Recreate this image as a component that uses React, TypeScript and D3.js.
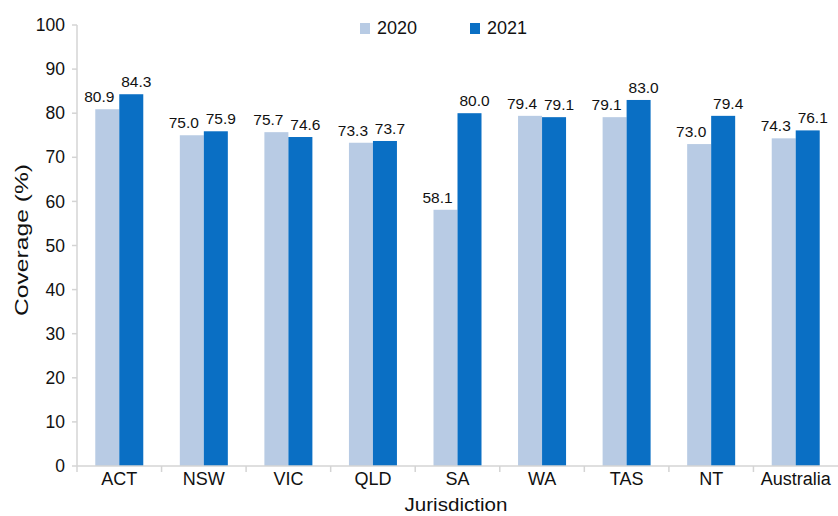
import React from 'react';
import * as d3 from 'd3';

const categories = ["ACT", "NSW", "VIC", "QLD", "SA", "WA", "TAS", "NT", "Australia"];
const values2020 = [80.9, 75.0, 75.7, 73.3, 58.1, 79.4, 79.1, 73.0, 74.3];
const values2021 = [84.3, 75.9, 74.6, 73.7, 80.0, 79.1, 83.0, 79.4, 76.1];
const seriesNames = ["2020", "2021"];
const yTicks = [0, 10, 20, 30, 40, 50, 60, 70, 80, 90, 100];

const colors = ["#b8cbe4", "#0a6fc4"];
const font = "'Liberation Sans', Arial, sans-serif";

export default function App() {
  const width = 838, height = 516;
  const x0 = 77, x1 = 838, yTop = 25, yBottom = 466;

  const x = d3.scaleBand().domain(categories).range([x0, x1]).paddingInner(0).paddingOuter(0);
  const y = d3.scaleLinear().domain([0, 100]).range([yBottom, yTop]);
  const barW = 24;

  const series = [values2020, values2021];
  const labelOffset = [-8, 5];

  return (
    <svg width={width} height={height} style={{position: 'absolute', left: 0, top: 0, background: '#fff'}}
      fontFamily={font}>
      {/* y axis */}
      <line x1={x0} x2={x0} y1={yTop} y2={yBottom} stroke="#d4d4d4" strokeWidth={1.5} />
      {yTicks.map(t => (
        <g key={t}>
          <line x1={x0 - 5} x2={x0} y1={y(t)} y2={y(t)} stroke="#d4d4d4" strokeWidth={1.5} />
          <text x={65} y={y(t)} dy="0.35em" textAnchor="end" fontSize={17.5} fill="#111">{t}</text>
        </g>
      ))}
      {/* bars */}
      {categories.map((c, i) => {
        const cx = x(c)! + x.bandwidth() / 2;
        return (
          <g key={c}>
            {series.map((vals, s) => {
              const bx = s === 0 ? cx - barW : cx;
              return (
                <g key={s}>
                  <rect x={bx} y={y(vals[i])} width={barW} height={yBottom - y(vals[i])} fill={colors[s]} />
                  <text x={bx + barW / 2 + labelOffset[s]} y={y(vals[i]) - 7} textAnchor="middle"
                    fontSize={15.5} fill="#111">{vals[i].toFixed(1)}</text>
                </g>
              );
            })}
            <text x={cx} y={485} textAnchor="middle" fontSize={18} fill="#111">{c}</text>
          </g>
        );
      })}
      {/* x axis */}
      <line x1={x0} x2={x1} y1={yBottom} y2={yBottom} stroke="#d4d4d4" strokeWidth={1.5} />
      {categories.map(c => (
        <line key={c} x1={x(c)!} x2={x(c)!} y1={yBottom} y2={yBottom + 6} stroke="#d4d4d4" strokeWidth={1.5} />
      ))}
      {/* axis titles */}
      <text x={456} y={511} textAnchor="middle" fontSize={18} fill="#111"
        textLength={103} lengthAdjust="spacingAndGlyphs">Jurisdiction</text>
      <text transform={`translate(28,240) rotate(-90)`} textAnchor="middle" fontSize={18} fill="#111"
        textLength={152} lengthAdjust="spacingAndGlyphs">Coverage (%)</text>
      {/* legend */}
      {seriesNames.map((n, s) => {
        const lx = s === 0 ? 360 : 470;
        return (
          <g key={n}>
            <rect x={lx} y={23} width={10} height={11} fill={colors[s]} />
            <text x={lx + 17} y={28} dy="0.35em" fontSize={18} fill="#111">{n}</text>
          </g>
        );
      })}
    </svg>
  );
}
